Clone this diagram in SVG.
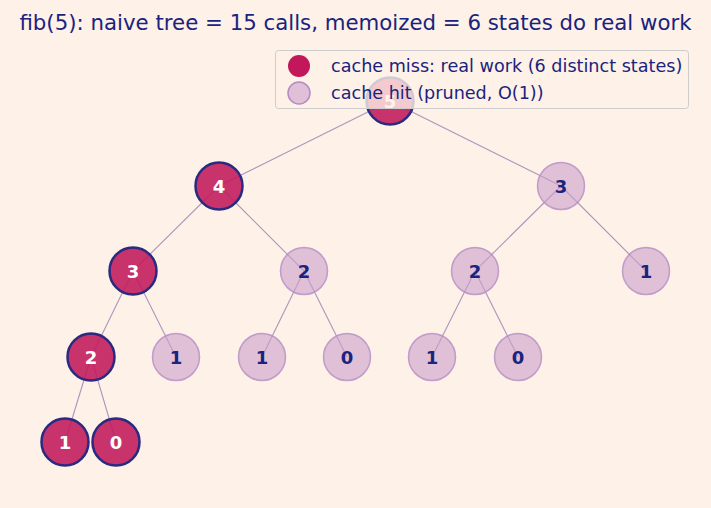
<svg xmlns="http://www.w3.org/2000/svg" width="711" height="508" viewBox="0 0 711 508">
<style>
.e{stroke:#8f78b0;stroke-opacity:0.75;stroke-width:1.1;fill:none}
.miss circle{fill:#c2185b;fill-opacity:0.88;stroke:#2a2a80;stroke-width:2.5}
.hit circle{fill:#c9a0cc;fill-opacity:0.6;stroke:#b48cc4;stroke-opacity:0.8;stroke-width:1.5}
.lbl{font-family:"DejaVu Sans",sans-serif;font-weight:bold;font-size:18px;text-anchor:middle}
.miss .lbl{fill:#ffffff}
.hit .lbl{fill:#1a237e}
.t{font-family:"DejaVu Sans",sans-serif;fill:#1a237e}
</style>
<rect width="711" height="508" fill="#fef1e7"/>
<text class="t" x="355.5" y="30" font-size="21.3" text-anchor="middle">fib(5): naive tree = 15 calls, memoized = 6 states do real work</text>
<g id="edges">
<line class="e" x1="390" y1="101" x2="219" y2="186"/>
<line class="e" x1="390" y1="101" x2="561" y2="186"/>
<line class="e" x1="219" y1="186" x2="133" y2="271"/>
<line class="e" x1="219" y1="186" x2="304" y2="271"/>
<line class="e" x1="561" y1="186" x2="475" y2="271"/>
<line class="e" x1="561" y1="186" x2="646" y2="271"/>
<line class="e" x1="133" y1="271" x2="91" y2="357"/>
<line class="e" x1="133" y1="271" x2="176" y2="357"/>
<line class="e" x1="304" y1="271" x2="262" y2="357"/>
<line class="e" x1="304" y1="271" x2="347" y2="357"/>
<line class="e" x1="475" y1="271" x2="432" y2="357"/>
<line class="e" x1="475" y1="271" x2="518" y2="357"/>
<line class="e" x1="91" y1="357" x2="65" y2="442"/>
<line class="e" x1="91" y1="357" x2="116" y2="442"/>
</g>
<g id="n5" class="miss"><circle cx="390" cy="101" r="23.5"/><text class="lbl" x="390" y="107.5">5</text></g>
<g id="n4" class="miss"><circle cx="219" cy="186" r="23.5"/><text class="lbl" x="219" y="192.5">4</text></g>
<g id="n3b" class="hit"><circle cx="561" cy="186" r="23.5"/><text class="lbl" x="561" y="192.5">3</text></g>
<g id="n3a" class="miss"><circle cx="133" cy="271" r="23.5"/><text class="lbl" x="133" y="277.5">3</text></g>
<g id="n2b" class="hit"><circle cx="304" cy="271" r="23.5"/><text class="lbl" x="304" y="277.5">2</text></g>
<g id="n2c" class="hit"><circle cx="475" cy="271" r="23.5"/><text class="lbl" x="475" y="277.5">2</text></g>
<g id="n1d" class="hit"><circle cx="646" cy="271" r="23.5"/><text class="lbl" x="646" y="277.5">1</text></g>
<g id="n2a" class="miss"><circle cx="91" cy="357" r="23.5"/><text class="lbl" x="91" y="363.5">2</text></g>
<g id="n1b" class="hit"><circle cx="176" cy="357" r="23.5"/><text class="lbl" x="176" y="363.5">1</text></g>
<g id="n1c" class="hit"><circle cx="262" cy="357" r="23.5"/><text class="lbl" x="262" y="363.5">1</text></g>
<g id="n0b" class="hit"><circle cx="347" cy="357" r="23.5"/><text class="lbl" x="347" y="363.5">0</text></g>
<g id="n1e" class="hit"><circle cx="432" cy="357" r="23.5"/><text class="lbl" x="432" y="363.5">1</text></g>
<g id="n0c" class="hit"><circle cx="518" cy="357" r="23.5"/><text class="lbl" x="518" y="363.5">0</text></g>
<g id="n1a" class="miss"><circle cx="65" cy="442" r="23.5"/><text class="lbl" x="65" y="448.5">1</text></g>
<g id="n0a" class="miss"><circle cx="116" cy="442" r="23.5"/><text class="lbl" x="116" y="448.5">0</text></g>
<g id="legend">
<rect x="275.5" y="50.5" width="413" height="58" rx="3" fill="#fef1e7" fill-opacity="0.8" stroke="#cccccc"/>
<circle cx="299" cy="66" r="11" fill="#c2185b"/>
<circle cx="299" cy="93" r="11" fill="#c9a0cc" fill-opacity="0.6" stroke="#b48cc4" stroke-width="1.5"/>
<text class="t" x="331" y="71.5" font-size="17.6">cache miss: real work (6 distinct states)</text>
<text class="t" x="331" y="98.5" font-size="17.6">cache hit (pruned, O(1))</text>
</g>
</svg>
